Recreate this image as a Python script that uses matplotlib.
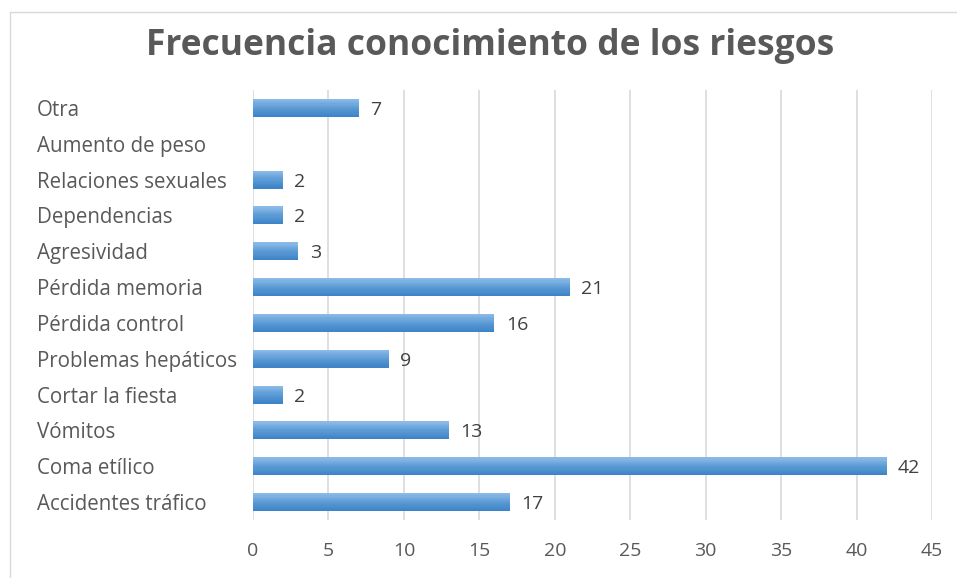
import numpy as np
import matplotlib
matplotlib.use('Agg')
import matplotlib.pyplot as plt
from matplotlib.colors import LinearSegmentedColormap

# data, bottom to top as in the chart
categorias = ['Accidentes tráfico', 'Coma etílico', 'Vómitos', 'Cortar la fiesta',
              'Problemas hepáticos', 'Pérdida control', 'Pérdida memoria', 'Agresividad',
              'Dependencias', 'Relaciones sexuales', 'Aumento de peso', 'Otra']
valores = [17, 42, 13, 2, 9, 16, 21, 3, 2, 2, None, 7]
xticks = [0, 5, 10, 15, 20, 25, 30, 35, 40, 45]

plt.rcParams['font.family'] = ['Open Sans', 'DejaVu Sans']

W, H = 957, 578
fig = plt.figure(figsize=(W/100, H/100), dpi=100)

# outer chart border (image is cropped at right/bottom)
fig.patches.append(plt.Rectangle((10/W, -0.1), 1.2, 1 - 12/H + 0.1, transform=fig.transFigure,
                                 fill=False, edgecolor='#d9d9d9', lw=1))

ax = fig.add_axes([253/W, 1 - 520/H, (932-253)/W, (520-90)/H])

y = np.arange(len(categorias))
vals = np.array([np.nan if v is None else v for v in valores], dtype=float)

# gradient: light at top, darker at bottom -> thin slices of barh
cmap = LinearSegmentedColormap.from_list('excelblue', ['#3e83c8', '#5b9bd5', '#8bbae8'])
h = 0.5
n = 16
for k in range(n):
    off = -h/2 + (k + 0.5) * h/n
    ax.barh(y + off, np.nan_to_num(vals), height=h/n * 1.05, color=cmap(k/(n-1)),
            lw=0, zorder=3)

for i, v in enumerate(valores):
    if v is None:
        continue
    ax.text(v + 0.75, i, str(v), va='center_baseline', ha='left', fontsize=14, color='#404040')

ax.set_xlim(0, 45)
ax.set_ylim(-0.5, len(categorias) - 0.5)
ax.set_xticks(xticks)
ax.set_yticks(y)
ax.set_yticklabels(categorias, ha='left')
ax.tick_params(axis='y', length=0, pad=(253-37)*0.72, labelsize=14.8, labelcolor='#595959')
ax.tick_params(axis='x', length=0, pad=16, labelsize=14, labelcolor='#595959')
ax.grid(axis='x', color='#d9d9d9', lw=1.2, zorder=0)
ax.set_axisbelow(True)
for s in ax.spines.values():
    s.set_visible(False)

fig.text(490/W, 1 - 46/H, 'Frecuencia conocimiento de los riesgos', ha='center', va='center',
         fontsize=25.5, fontweight='bold', color='#595959')

fig.savefig('out.png', dpi=100)
